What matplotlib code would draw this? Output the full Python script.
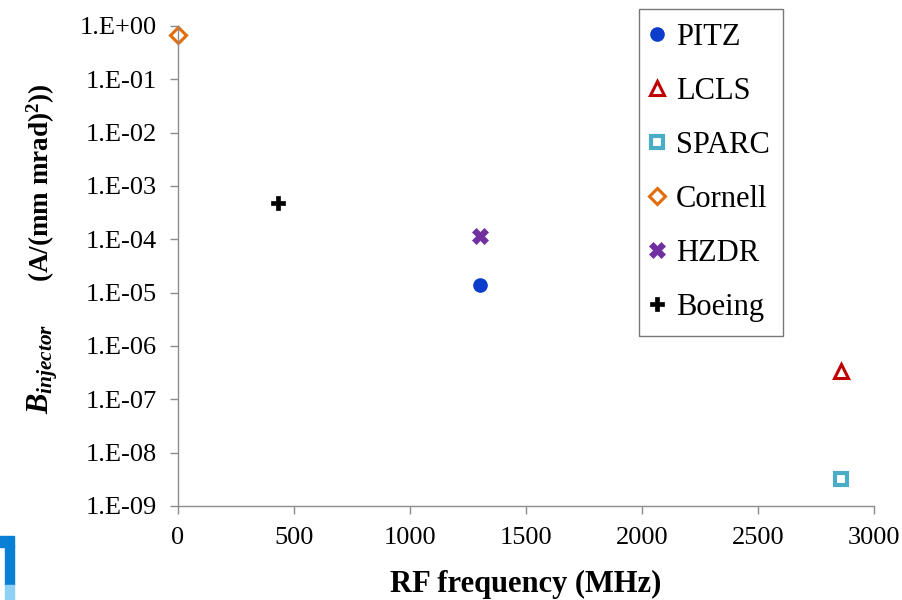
import numpy as np
import matplotlib
matplotlib.use("Agg")
import matplotlib.pyplot as plt
from matplotlib.ticker import FixedLocator, FuncFormatter
from matplotlib.patches import Rectangle

plt.rcParams["font.family"] = ["Liberation Serif", "DejaVu Serif"]
plt.rcParams["mathtext.fontset"] = "custom"
plt.rcParams["mathtext.it"] = "Liberation Serif:italic:bold"
plt.rcParams["mathtext.rm"] = "Liberation Serif:bold"
plt.rcParams["mathtext.bf"] = "Liberation Serif:bold"

# ---------------------------------------------------------
# DATA
# ---------------------------------------------------------
labs = ["PITZ", "LCLS", "SPARC", "Cornell", "HZDR", "Boeing"]
freq_mhz = [1300, 2856, 2856, 0, 1300, 433]
b_inj = [1.4e-5, 3.4e-7, 3.2e-9, 0.68, 1.15e-4, 4.8e-4]

# marker styles per facility
styles = {
    "PITZ":    dict(marker="o", mfc="#0b3ccc", mec="#0b3ccc", ms=9.5, mew=1),
    "LCLS":    dict(marker="^", mfc="white", mec="#c00000", ms=10, mew=2.2),
    "SPARC":   dict(marker="s", mfc="white", mec="#4bacc6", ms=9, mew=3),
    "Cornell": dict(marker="D", mfc="white", mec="#e36c09", ms=8.5, mew=2.2),
    "HZDR":    dict(marker="X", mfc="#7030a0", mec="#7030a0", ms=11, mew=0.5),
    "Boeing":  dict(marker="P", mfc="black", mec="black", ms=10, mew=0.5),
}

fig = plt.figure(figsize=(9.02, 6), dpi=100)
ax = fig.add_axes([178 / 902, 1 - 506 / 600, 696 / 902, 480 / 600])

for name, x, y in zip(labs, freq_mhz, b_inj):
    ax.plot([x], [y], linestyle="none", label=name, clip_on=False, **styles[name])

ax.set_yscale("log")
ax.set_xlim(0, 3000)
ax.set_ylim(1e-9, 1.0)
ax.set_xticks(np.arange(0, 3001, 500))
ax.yaxis.set_major_locator(FixedLocator([10.0 ** k for k in range(-9, 1)]))
ax.yaxis.set_minor_locator(FixedLocator([]))


def sci_fmt(v, pos):
    e = int(round(np.log10(v)))
    return "1.E%s%02d" % ("+" if e >= 0 else "-", abs(e))


ax.yaxis.set_major_formatter(FuncFormatter(sci_fmt))

for s in ["top", "right"]:
    ax.spines[s].set_visible(False)
for s in ["left", "bottom"]:
    ax.spines[s].set_color("#8c8c8c")
    ax.spines[s].set_linewidth(1.0)
ax.tick_params(axis="both", direction="out", length=6, width=1, color="#8c8c8c",
               labelsize=19)
ax.tick_params(axis="y", pad=9.5)
ax.tick_params(axis="x", pad=9)

ax.set_xlabel("RF frequency (MHz)", fontsize=22, fontweight="bold", labelpad=15)

# y label: big italic B with subscript, then the units in bold
fig.text(43 / 902, 1 - 369 / 600, r"$B_{injector}$", rotation=90,
         ha="center", va="center", fontsize=22)
fig.text(41 / 902, 1 - 183 / 600, r"(A/(mm mrad)$^{2}$))", rotation=90,
         ha="center", va="center", fontsize=19.5, fontweight="bold")

leg = ax.legend(loc="upper left", bbox_to_anchor=(639 / 902, 1 - 9 / 600),
                bbox_transform=fig.transFigure, fontsize=22, frameon=True,
                fancybox=False, edgecolor="#555555", labelspacing=0.82,
                handlelength=0.3, handletextpad=0.45, borderpad=0.45,
                borderaxespad=0, numpoints=1, markerscale=1.0)
leg.get_frame().set_linewidth(1.0)

# fragment of a slide logo in the bottom-left corner
fig.patches.append(Rectangle((0, 1 - 547 / 600), 14 / 902, 11 / 600,
                             transform=fig.transFigure, color="#0a7fd6"))
fig.patches.append(Rectangle((5 / 902, 15 / 600), 9 / 902, 40 / 600,
                             transform=fig.transFigure, color="#0a7fd6"))
fig.patches.append(Rectangle((5 / 902, 0), 9 / 902, 15 / 600,
                             transform=fig.transFigure, color="#8fd0f5"))

fig.savefig("out.png", dpi=100)
